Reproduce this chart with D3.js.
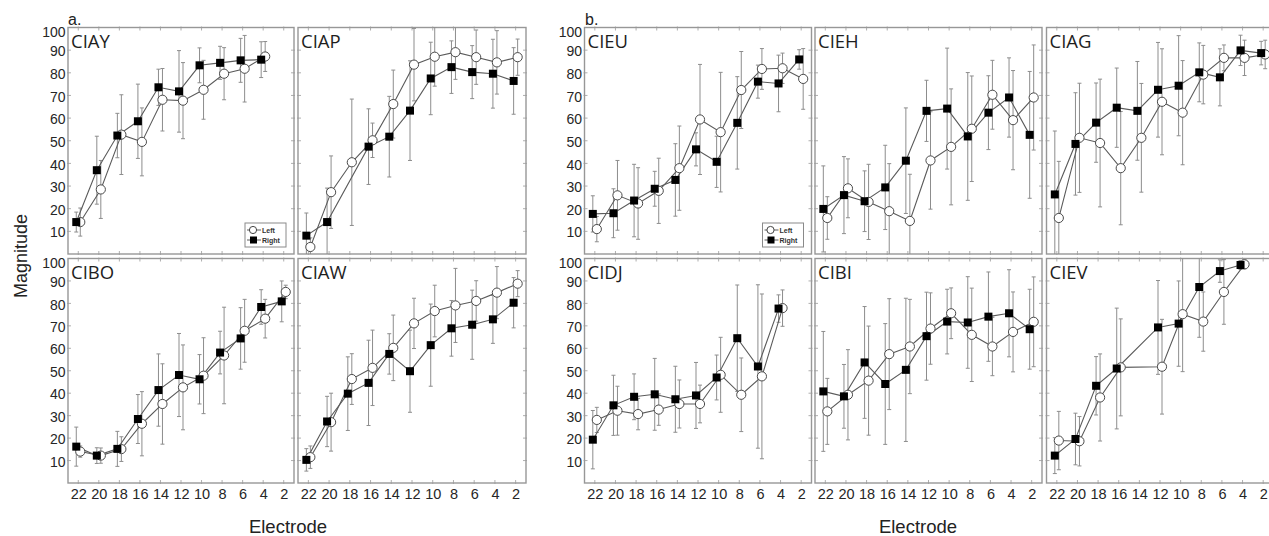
<!DOCTYPE html>
<html><head><meta charset="utf-8">
<script src="https://cdn.jsdelivr.net/npm/d3@7"></script>
<style>body{margin:0;background:#fff;overflow:hidden} svg{display:block}</style>
</head><body><svg id="c" width="1269" height="536"></svg>
<script>
const electrodes = [22,20,18,16,14,12,10,8,6,4,2];
const yTickValues = [10,20,30,40,50,60,70,80,90,100];
const seriesNames = ["Left","Right"];

// Panel a.
const CIAY_left    = [14.1, 28.5, 52.7, 49.5, 68.1, 67.7, 72.5, 79.6, 81.8, 87.2, null];
const CIAY_leftSD  = [6.2, 12.8, 17.6, 15, 13.8, 16.8, 13, 11.5, 14.7, 6.6, null];
const CIAY_right   = [14.1, 37.0, 52.3, 58.6, 73.6, 71.8, 83.3, 84.4, 85.5, 85.8, null];
const CIAY_rightSD = [4.4, 15, 9.8, 16.4, 8, 18, 7.7, 7.3, 9.7, 7.9, null];

const CIAP_left    = [3.1, 27.3, 40.5, 50.2, 66.2, 83.6, 87.1, 89.1, 86.9, 84.6, 86.9];
const CIAP_leftSD  = [4, 16, 27.9, 7.6, 15, 16, 13, 12, 12, 14, 8];
const CIAP_right   = [8.1, 14.1, null, 47.4, 51.8, 63.3, 77.5, 82.5, 80.3, 79.6, 76.4];
const CIAP_rightSD = [10, 15, null, 16.7, 17.8, 22, 16, 11.6, 11.7, 15.2, 14.7];

const CIBO_left    = [14.0, 12.2, 15.1, 26.4, 35.2, 42.6, 47.8, 56.8, 67.8, 73.2, 85.1];
const CIBO_leftSD  = [2.5, 3.4, 5.5, 14.3, 17.9, 18.9, 16.9, 21.5, 14, 8.6, 3];
const CIBO_right   = [16.2, 12.2, 15.2, 28.5, 41.4, 48.1, 46.2, 58.1, 64.4, 78.4, 80.9];
const CIBO_rightSD = [8.7, 3.5, 7.8, 10.9, 16.1, 18.5, 11, 9.5, 13.7, 7.7, 9.1];

const CIAW_left    = [11.5, 27.1, 46.3, 51.3, 60.2, 71.1, 76.6, 79.1, 81.1, 84.8, 88.8];
const CIAW_leftSD  = [5, 12.9, 11.3, 16.8, 14.6, 11.2, 11.5, 16.5, 9, 11.6, 5.8];
const CIAW_right   = [10.3, 27.4, 39.8, 44.6, 57.5, 49.8, 61.4, 68.9, 70.5, 72.9, 80.3];
const CIAW_rightSD = [5, 11.2, 16.4, 19, 9, 18.3, 18.3, 12.4, 15.4, 10.7, 11.2];

// Panel b.
const CIEU_left    = [11.0, 25.9, 22.3, 27.9, 37.9, 59.4, 53.8, 72.4, 81.7, 82.0, 77.3];
const CIEU_leftSD  = [5.6, 15.4, 15.8, 14.4, 18.6, 24.3, 26.4, 17, 9, 6.7, 13.4];
const CIEU_right   = [17.7, 18.0, 23.6, 28.8, 32.7, 46.2, 40.7, 57.9, 76.1, 75.3, 85.9];
const CIEU_rightSD = [8, 10.8, 16, 7.7, 16, 7.3, 11.3, 20.4, 7.3, 12.5, 4.3];

const CIEH_left    = [15.9, 29.0, 23.0, 18.9, 14.6, 41.3, 47.3, 55.3, 70.3, 59.1, 69.1];
const CIEH_leftSD  = [9.4, 13, 16.6, 21, 20.6, 21.5, 25.6, 23.3, 15.2, 21.9, 23.2];
const CIEH_right   = [19.9, 26.0, 23.3, 29.4, 41.2, 63.2, 64.2, 51.9, 62.4, 69.1, 52.6];
const CIEH_rightSD = [19, 17, 13.4, 18.6, 23.3, 13.5, 26.7, 28.2, 16.3, 17.5, 28];

const CIAG_left    = [15.9, 51.3, 49.0, 37.9, 51.3, 67.2, 62.4, 79.2, 86.6, 86.6, 88.1];
const CIAG_leftSD  = [25, 24.1, 28.2, 25, 24, 23.4, 23, 12.9, 5.7, 7.8, 6.3];
const CIAG_right   = [26.3, 48.6, 58.0, 64.6, 63.2, 72.5, 74.3, 80.2, 78.0, 89.9, 88.7];
const CIAG_rightSD = [28, 22.6, 17.5, 17.5, 21.8, 20.9, 22.1, 13, 12.6, 6.7, 5.2];

const CIDJ_left    = [28.1, 32.2, 30.7, 32.7, 35.2, 35.2, 48.2, 39.3, 47.5, 77.9, null];
const CIDJ_leftSD  = [5.6, 10.9, 7, 7, 10.7, 8.4, 16.7, 16.4, 36.7, 8.1, null];
const CIDJ_right   = [19.3, 34.6, 38.4, 39.5, 37.3, 39.0, 47.0, 64.5, 51.9, 77.7, null];
const CIDJ_rightSD = [13, 13.4, 10.2, 16, 14.7, 14.7, 10, 23.7, 36.4, 6.1, null];

const CIBI_left    = [31.9, 39.3, 45.6, 57.4, 60.8, 68.8, 75.6, 66.0, 60.8, 67.3, 71.8];
const CIBI_leftSD  = [14.7, 20.1, 24.3, 24.7, 21, 15.9, 11.3, 20.8, 13, 17.8, 20];
const CIBI_right   = [40.8, 38.6, 53.7, 44.1, 50.4, 65.4, 71.9, 71.5, 74.1, 75.6, 68.5];
const CIBI_rightSD = [26.7, 14.2, 24.9, 26.9, 31.9, 19.6, 14.4, 20.4, 19.9, 19.4, 17.8];

const CIEV_left    = [18.9, 18.6, 38.1, 51.5, null, 51.8, 75.2, 71.9, 85.1, 97.4, null];
const CIEV_leftSD  = [13, 11, 19.4, 21.6, null, 21.1, 25.6, 13.2, 14.4, 2, null];
const CIEV_right   = [12.2, 19.6, 43.3, 51.0, null, 69.3, 71.0, 87.3, 94.4, 97.1, null];
const CIEV_rightSD = [8, 11.5, 13, 26.9, null, 20.9, 19, 22.4, 5, 2, null];

// layout (positions only)
const rows = [[27.5, 254], [258.5, 483]];
const panels = [
  {name:"CIAY", L:CIAY_left, Lsd:CIAY_leftSD, R:CIAY_right, Rsd:CIAY_rightSD, x0:68, x1:294, row:0, yLabels:true, legend:true},
  {name:"CIAP", L:CIAP_left, Lsd:CIAP_leftSD, R:CIAP_right, Rsd:CIAP_rightSD, x0:298, x1:526, row:0},
  {name:"CIBO", L:CIBO_left, Lsd:CIBO_leftSD, R:CIBO_right, Rsd:CIBO_rightSD, x0:68, x1:294, row:1, yLabels:true, xLabels:true},
  {name:"CIAW", L:CIAW_left, Lsd:CIAW_leftSD, R:CIAW_right, Rsd:CIAW_rightSD, x0:298, x1:526, row:1, xLabels:true},
  {name:"CIEU", L:CIEU_left, Lsd:CIEU_leftSD, R:CIEU_right, Rsd:CIEU_rightSD, x0:584.5, x1:811.5, row:0, yLabels:true, legend:true},
  {name:"CIEH", L:CIEH_left, Lsd:CIEH_leftSD, R:CIEH_right, Rsd:CIEH_rightSD, x0:815, x1:1042, row:0},
  {name:"CIAG", L:CIAG_left, Lsd:CIAG_leftSD, R:CIAG_right, Rsd:CIAG_rightSD, x0:1046.5, x1:1273.5, row:0},
  {name:"CIDJ", L:CIDJ_left, Lsd:CIDJ_leftSD, R:CIDJ_right, Rsd:CIDJ_rightSD, x0:584.5, x1:811.5, row:1, yLabels:true, xLabels:true},
  {name:"CIBI", L:CIBI_left, Lsd:CIBI_leftSD, R:CIBI_right, Rsd:CIBI_rightSD, x0:815, x1:1042, row:1, xLabels:true},
  {name:"CIEV", L:CIEV_left, Lsd:CIEV_leftSD, R:CIEV_right, Rsd:CIEV_rightSD, x0:1046.5, x1:1273.5, row:1, xLabels:true}
];

const svg = d3.select("#c");
const defs = svg.append("defs");
const frameColor = "#979797", lineColor = "#5b5b5b", errColor = "#8d8d8d";
const OFF = 2; // horizontal dodge between Left/Right

panels.forEach((p, i) => {
  const [yt, yb] = rows[p.row];
  const x = d3.scaleLinear().domain([23, 1]).range([p.x0, p.x1]);
  const y = d3.scaleLinear().domain([0, 100]).range([yb, yt]);
  const g = svg.append("g");
  const cid = "clip" + i;
  defs.append("clipPath").attr("id", cid).append("rect")
    .attr("x", p.x0).attr("y", yt).attr("width", p.x1 - p.x0).attr("height", yb - yt);

  g.append("rect").attr("x", p.x0).attr("y", yt).attr("width", p.x1 - p.x0).attr("height", yb - yt)
    .attr("fill", "#fff").attr("stroke", frameColor).attr("stroke-width", 1.4);

  const tk = g.append("g").attr("stroke", "#9a9a9a").attr("stroke-width", 0.8);
  electrodes.forEach(e => {
    tk.append("line").attr("x1", x(e)).attr("x2", x(e)).attr("y1", yt - 1).attr("y2", yt + 3);
    tk.append("line").attr("x1", x(e)).attr("x2", x(e)).attr("y1", yb + 1).attr("y2", yb - 3);
  });
  yTickValues.slice(0, 9).forEach(v => {
    tk.append("line").attr("x1", p.x0 - 1).attr("x2", p.x0 + 3).attr("y1", y(v)).attr("y2", y(v));
    tk.append("line").attr("x1", p.x1 + 1).attr("x2", p.x1 - 3).attr("y1", y(v)).attr("y2", y(v));
  });

  if (p.yLabels) {
    const ax = g.append("g").attr("transform", `translate(${p.x0},0)`)
      .call(d3.axisLeft(y).tickValues(yTickValues).tickSize(0).tickPadding(2.5));
    ax.select(".domain").remove();
    ax.selectAll("text").attr("font-family", "Liberation Sans, Arial, sans-serif")
      .attr("font-size", 14).attr("fill", "#262626")
      .attr("dy", d => d === 100 ? "0.62em" : "0.4em");
  }
  if (p.xLabels) {
    const ax = g.append("g").attr("transform", `translate(0,${yb})`)
      .call(d3.axisBottom(x).tickValues(electrodes).tickFormat(d3.format("d")).tickSize(0).tickPadding(5.5));
    ax.select(".domain").remove();
    ax.selectAll("text").attr("font-family", "Liberation Sans, Arial, sans-serif")
      .attr("font-size", 14.5).attr("fill", "#262626");
  }

  g.append("text").attr("x", p.x0 + 3).attr("y", yt + 20.5).text(p.name)
    .attr("font-family", "Open Sans, sans-serif").attr("font-size", 18.5).attr("fill", "#1e1e1e");

  const plot = g.append("g").attr("clip-path", `url(#${cid})`);
  const series = [
    {vals: p.L, sd: p.Lsd, dx: OFF, type: "circle"},
    {vals: p.R, sd: p.Rsd, dx: -OFF, type: "square"}
  ];
  series.forEach(s => {
    const pts = electrodes.map((e, k) => ({e, v: s.vals[k], sd: s.sd[k]})).filter(d => d.v != null);
    const eb = plot.append("g").attr("stroke", errColor).attr("stroke-width", 1);
    pts.forEach(d => {
      const cx = x(d.e) + s.dx, ylo = y(d.v - d.sd), yhi = y(d.v + d.sd);
      eb.append("line").attr("x1", cx).attr("x2", cx).attr("y1", ylo).attr("y2", yhi);
      eb.append("line").attr("x1", cx - 2).attr("x2", cx + 2).attr("y1", ylo).attr("y2", ylo);
      eb.append("line").attr("x1", cx - 2).attr("x2", cx + 2).attr("y1", yhi).attr("y2", yhi);
    });
    s.pts = pts;
  });
  series.forEach(s => {
    plot.append("path").datum(s.pts)
      .attr("d", d3.line().x(d => x(d.e) + s.dx).y(d => y(d.v)))
      .attr("fill", "none").attr("stroke", lineColor).attr("stroke-width", 1.1);
  });
  series.forEach(s => {
    if (s.type === "circle") {
      plot.append("g").selectAll("circle").data(s.pts).join("circle")
        .attr("cx", d => x(d.e) + s.dx).attr("cy", d => y(d.v)).attr("r", 4.6)
        .attr("fill", "#fff").attr("stroke", "#4a4a4a").attr("stroke-width", 1);
    } else {
      plot.append("g").selectAll("rect").data(s.pts).join("rect")
        .attr("x", d => x(d.e) + s.dx - 4).attr("y", d => y(d.v) - 4)
        .attr("width", 8).attr("height", 8).attr("fill", "#000");
    }
  });

  if (p.legend) {
    const bx = p.x1 - 49, by = yb - 31;
    const lg = g.append("g");
    lg.append("rect").attr("x", bx).attr("y", by).attr("width", 41).attr("height", 24)
      .attr("fill", "#fff").attr("stroke", "#8a8a8a").attr("stroke-width", 1);
    seriesNames.forEach((nm, k) => {
      const cy = by + 7 + k * 10;
      lg.append("line").attr("x1", bx + 2).attr("x2", bx + 16).attr("y1", cy).attr("y2", cy)
        .attr("stroke", lineColor).attr("stroke-width", 1);
      if (k === 0) lg.append("circle").attr("cx", bx + 8).attr("cy", cy).attr("r", 3.6)
        .attr("fill", "#fff").attr("stroke", "#444");
      else lg.append("rect").attr("x", bx + 5).attr("y", cy - 3.5).attr("width", 7).attr("height", 7).attr("fill", "#000");
      lg.append("text").attr("x", bx + 17).attr("y", cy + 2.6).text(nm)
        .attr("font-family", "Liberation Sans, Arial, sans-serif").attr("font-size", 7)
        .attr("font-weight", "bold").attr("fill", "#333");
    });
  }
});

const txt = (xx, yy, t, size, extra) => {
  const e = svg.append("text").attr("x", xx).attr("y", yy).text(t)
    .attr("font-family", "Liberation Sans, Arial, sans-serif").attr("font-size", size).attr("fill", "#222");
  if (extra) extra(e);
  return e;
};
txt(68, 24.5, "a.", 16);
txt(585, 24.5, "b.", 16);
txt(0, 0, "Magnitude", 18, e => e.attr("text-anchor", "middle").attr("transform", "translate(27,256) rotate(-90)"));
txt(288, 533, "Electrode", 18.5, e => e.attr("text-anchor", "middle"));
txt(918, 533, "Electrode", 18.5, e => e.attr("text-anchor", "middle"));
</script></body></html>
